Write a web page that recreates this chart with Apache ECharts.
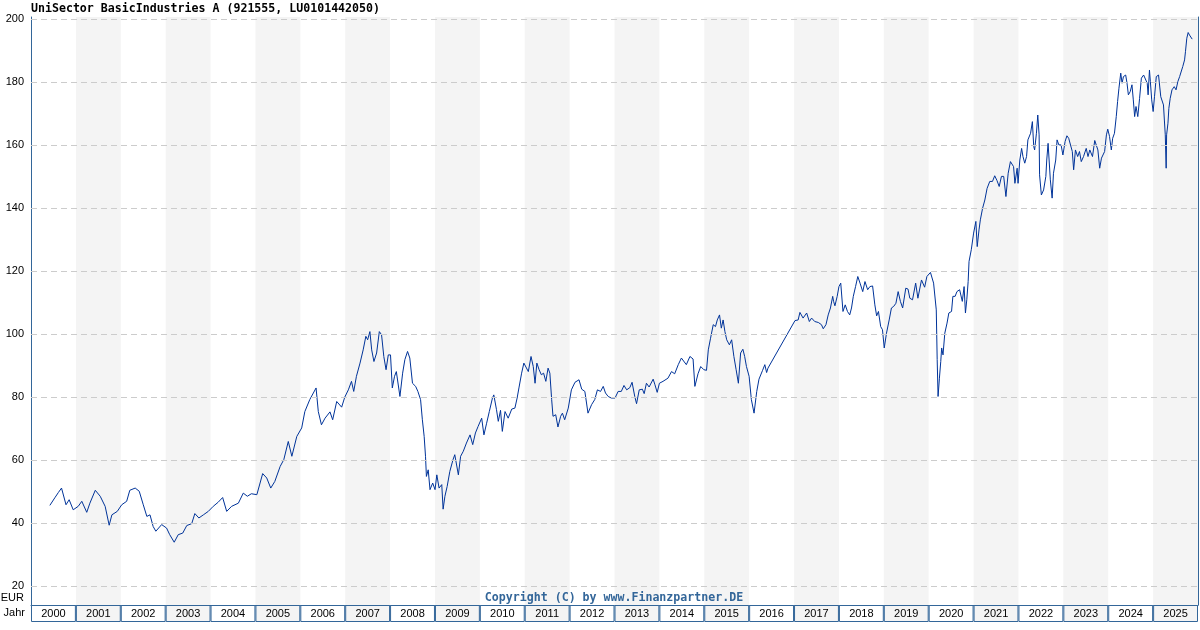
<!DOCTYPE html>
<html>
<head>
<meta charset="utf-8">
<script src="https://cdn.jsdelivr.net/npm/echarts@6/dist/echarts.min.js"></script>
<style>
  html, body { margin: 0; padding: 0; background: #fff; }
  #chart { width: 1200px; height: 630px; }
</style>
</head>
<body>
<div id="chart"></div>
<script>
// Jahre fuer die Baender und die Jahresleiste
const years = ['2000','2001','2002','2003','2004','2005','2006','2007','2008','2009','2010','2011','2012',
  '2013','2014','2015','2016','2017','2018','2019','2020','2021','2022','2023','2024','2025'];

// y-Achsen Beschriftung (EUR)
const yTicks = [20, 40, 60, 80, 100, 120, 140, 160, 180, 200];

// Zeitpunkte als Dezimaljahr
const dates = [
  2000.42, 2000.53, 2000.61, 2000.68, 2000.78, 2000.85, 2000.94,
  2001.05, 2001.13, 2001.24, 2001.31, 2001.43, 2001.54, 2001.65, 2001.74, 2001.80, 2001.92,
  2002.02, 2002.13, 2002.20, 2002.32, 2002.41, 2002.50, 2002.58, 2002.65, 2002.72, 2002.78, 2002.91,
  2003.02, 2003.09, 2003.19, 2003.28, 2003.38, 2003.47, 2003.58, 2003.65, 2003.74, 2003.84, 2003.95,
  2004.06, 2004.17, 2004.27, 2004.36, 2004.47, 2004.62, 2004.73, 2004.82, 2004.91,
  2005.03, 2005.16, 2005.25, 2005.34, 2005.43, 2005.55, 2005.63, 2005.73, 2005.81, 2005.92,
  2006.03, 2006.10, 2006.21, 2006.35, 2006.40, 2006.47, 2006.55, 2006.66, 2006.72, 2006.81, 2006.92, 2006.99,
  2007.07, 2007.14, 2007.19, 2007.25, 2007.33, 2007.40, 2007.46, 2007.50, 2007.55, 2007.59, 2007.64, 2007.70, 2007.76, 2007.81, 2007.86, 2007.91, 2007.96,
  2008.01, 2008.05, 2008.10, 2008.14, 2008.22, 2008.28, 2008.33, 2008.39, 2008.44, 2008.50, 2008.57, 2008.62, 2008.68, 2008.72, 2008.76, 2008.79, 2008.81, 2008.85, 2008.89, 2008.95,
  2009.00, 2009.04, 2009.09, 2009.15, 2009.18, 2009.22, 2009.27, 2009.33, 2009.40, 2009.44, 2009.52, 2009.57, 2009.63, 2009.70, 2009.78, 2009.84, 2009.90, 2009.96,
  2010.04, 2010.09, 2010.15, 2010.21, 2010.28, 2010.31, 2010.37, 2010.41, 2010.46, 2010.50, 2010.56, 2010.63, 2010.71, 2010.78, 2010.83, 2010.87, 2010.93, 2010.98,
  2011.02, 2011.08, 2011.14, 2011.19, 2011.23, 2011.27, 2011.32, 2011.37, 2011.42, 2011.47, 2011.52, 2011.56, 2011.60, 2011.63, 2011.69, 2011.74, 2011.80, 2011.84, 2011.89, 2011.97,
  2012.04, 2012.12, 2012.21, 2012.27, 2012.34, 2012.41, 2012.49, 2012.56, 2012.62, 2012.69, 2012.75, 2012.80, 2012.86, 2012.93,
  2013.01, 2013.08, 2013.15, 2013.21, 2013.27, 2013.34, 2013.39, 2013.45, 2013.49, 2013.55, 2013.62, 2013.66, 2013.71, 2013.77, 2013.86, 2013.90, 2013.95,
  2014.00, 2014.08, 2014.19, 2014.27, 2014.34, 2014.42, 2014.49, 2014.60, 2014.68, 2014.75, 2014.79, 2014.86, 2014.92, 2014.99,
  2015.05, 2015.09, 2015.14, 2015.20, 2015.25, 2015.29, 2015.34, 2015.38, 2015.42, 2015.46, 2015.50, 2015.56, 2015.61, 2015.66, 2015.71, 2015.76, 2015.81, 2015.86, 2015.90, 2015.94,
  2016.00, 2016.05, 2016.11, 2016.17, 2016.22, 2016.30, 2016.35, 2016.39, 2016.42,
  2017.02, 2017.09, 2017.13, 2017.20, 2017.28, 2017.34, 2017.39, 2017.46, 2017.54, 2017.61, 2017.65, 2017.71, 2017.76, 2017.81, 2017.86, 2017.88, 2017.91, 2017.96,
  2018.00, 2018.04, 2018.09, 2018.14, 2018.19, 2018.24, 2018.28, 2018.32, 2018.37, 2018.42, 2018.47, 2018.53, 2018.58, 2018.64, 2018.69, 2018.75, 2018.80, 2018.84, 2018.88, 2018.93, 2018.97,
  2019.01, 2019.06, 2019.12, 2019.17, 2019.22, 2019.27, 2019.32, 2019.37, 2019.42, 2019.49, 2019.54, 2019.58, 2019.64, 2019.71, 2019.76, 2019.84, 2019.91, 2019.96,
  2020.04, 2020.11, 2020.15, 2020.17, 2020.19, 2020.21, 2020.24, 2020.27, 2020.29, 2020.32, 2020.36, 2020.41, 2020.45, 2020.51, 2020.54, 2020.59, 2020.63, 2020.69, 2020.75, 2020.79, 2020.82, 2020.85, 2020.88, 2020.90, 2020.95,
  2021.00, 2021.05, 2021.08, 2021.12, 2021.15, 2021.20, 2021.25, 2021.30, 2021.36, 2021.42, 2021.47, 2021.52, 2021.57, 2021.62, 2021.67, 2021.72, 2021.77, 2021.82, 2021.86, 2021.89, 2021.92, 2021.97, 2021.99,
  2022.03, 2022.07, 2022.10, 2022.14, 2022.18, 2022.21, 2022.27, 2022.31, 2022.34, 2022.36, 2022.40, 2022.43, 2022.46, 2022.47, 2022.51, 2022.56, 2022.61, 2022.63, 2022.66, 2022.71, 2022.75, 2022.78, 2022.83, 2022.86, 2022.90, 2022.95, 2022.99,
  2023.04, 2023.08, 2023.12, 2023.16, 2023.20, 2023.23, 2023.27, 2023.32, 2023.36, 2023.40, 2023.45, 2023.51, 2023.55, 2023.59, 2023.65, 2023.70, 2023.74, 2023.77, 2023.81, 2023.85, 2023.88, 2023.92, 2023.96, 2023.99,
  2024.03, 2024.07, 2024.10, 2024.14, 2024.18, 2024.21, 2024.24, 2024.28, 2024.31, 2024.34, 2024.39, 2024.42, 2024.45, 2024.49, 2024.53, 2024.56, 2024.59, 2024.62, 2024.66, 2024.70, 2024.74, 2024.79, 2024.83, 2024.87, 2024.89, 2024.92, 2024.94, 2024.97,
  2025.00, 2025.03, 2025.07, 2025.12, 2025.14, 2025.17, 2025.20, 2025.23, 2025.25, 2025.27, 2025.29, 2025.30, 2025.33, 2025.35, 2025.38, 2025.42, 2025.47, 2025.51, 2025.55, 2025.59, 2025.63, 2025.66, 2025.70, 2025.72, 2025.75, 2025.78, 2025.81, 2025.84, 2025.87
];

// Kurs in EUR
const values = [
  45.6, 48.0, 49.7, 51.1, 45.8, 47.4, 44.2,
  45.3, 46.9, 43.4, 46.3, 50.4, 48.5, 45.3, 39.3, 42.6, 43.7,
  45.8, 46.9, 50.4, 51.1, 50.1, 45.8, 42.1, 42.6, 38.9, 37.4, 39.5,
  38.4, 36.3, 33.9, 36.3, 36.8, 39.2, 39.8, 43.0, 41.6, 42.6, 43.7,
  45.3, 46.6, 48.1, 43.7, 45.3, 46.3, 49.5, 48.5, 49.3,
  49.0, 55.7, 54.3, 51.1, 53.2, 58.0, 60.1, 65.9, 61.2, 67.5,
  70.2, 75.4, 79.2, 82.9, 75.4, 71.2, 73.3, 75.3, 72.8, 78.6, 76.8, 80.0,
  82.3, 85.0, 81.8, 86.6, 90.8, 95.0, 99.3, 98.2, 100.8, 95.0, 91.3, 94.0, 100.8, 99.8, 92.9, 88.7, 93.4,
  93.4, 82.9, 86.6, 88.1, 80.2, 87.6, 91.9, 94.5, 92.4, 84.4, 83.4, 81.8, 79.2, 72.8, 67.5, 61.2, 54.8, 56.9, 50.6, 52.7,
  50.6, 55.3, 51.1, 52.2, 44.4, 48.5, 51.6, 56.4, 60.1, 61.7, 55.3, 61.2, 62.8, 65.4, 68.0, 64.9, 68.6, 70.7,
  73.3, 68.0, 71.7, 75.4, 79.7, 80.7, 76.0, 72.3, 75.8, 69.1, 75.4, 73.3, 76.2, 76.5, 79.7, 82.9, 87.6, 90.8,
  91.3, 88.1, 92.9, 89.7, 84.4, 90.8, 88.7, 87.1, 87.6, 85.0, 89.2, 87.6, 79.2, 73.9, 74.4, 70.5, 73.9, 74.9, 72.8, 76.5,
  82.3, 84.7, 85.5, 82.5, 81.8, 74.9, 77.6, 79.2, 82.3, 81.8, 83.4, 81.3, 80.2, 79.7,
  79.7, 81.8, 81.8, 83.7, 82.3, 83.0, 84.7, 80.2, 77.9, 82.3, 82.5, 81.1, 84.4, 83.2, 85.7, 83.9, 81.5,
  84.4, 85.0, 86.0, 88.1, 87.4, 90.3, 92.4, 90.3, 92.9, 92.1, 83.4, 87.4, 89.7, 88.7,
  88.5, 95.0, 98.7, 103.0, 102.4, 104.5, 106.1, 101.9, 104.5, 100.8, 98.2, 96.6, 98.2, 92.9, 88.7, 84.4, 94.0, 95.2, 92.9, 89.7,
  86.6, 79.2, 74.9, 81.8, 85.7, 88.5, 90.3, 87.8, 89.2,
  104.3, 104.5, 106.9, 105.1, 106.7, 104.0, 105.1, 104.0, 103.7, 103.0, 101.7, 103.0, 106.1, 108.3, 112.0, 110.4, 109.0, 112.0,
  115.1, 116.2, 107.2, 109.3, 107.2, 106.1, 108.3, 112.0, 115.1, 118.3, 116.2, 113.5, 116.7, 114.1, 115.1, 115.3, 109.3, 105.8, 107.2, 102.4, 101.4,
  95.6, 100.3, 104.5, 108.3, 108.8, 109.8, 113.5, 110.4, 108.3, 114.6, 114.3, 111.4, 110.9, 116.2, 111.4, 117.2, 114.9, 118.3,
  119.6, 116.2, 115.7, 107.7, 91.9, 80.2, 86.0, 91.3, 95.6, 93.4, 100.3, 103.5, 106.7, 107.2, 112.0, 112.0, 113.5, 114.1, 110.4, 115.1, 106.7, 110.9, 116.7, 123.1, 126.8,
  132.1, 135.8, 127.8, 133.1, 136.3, 140.0, 142.6, 146.3, 148.5, 148.5, 150.3, 148.8, 146.9, 150.1, 150.1, 143.7, 151.1, 154.8, 155.3, 153.2, 147.9, 152.7, 147.9,
  155.3, 159.0, 156.4, 154.3, 156.4, 161.7, 163.8, 167.5, 159.6, 158.5, 163.8, 169.6, 163.3, 150.6, 144.2, 145.8, 150.1, 155.3, 160.6, 149.0, 143.2, 151.1, 155.3, 161.7, 160.1, 160.1, 156.9,
  161.2, 163.0, 162.2, 162.5, 158.0, 152.2, 158.5, 156.4, 158.0, 154.8, 156.4, 159.0, 156.4, 158.5, 156.4, 161.5, 161.9, 158.5, 152.7, 155.9, 156.4, 158.0, 163.3, 165.1,
  162.8, 158.5, 162.2, 163.8, 169.1, 173.9, 178.1, 182.9, 179.7, 181.8, 182.3, 179.7, 176.0, 177.0, 179.2, 174.4, 169.1, 172.3, 169.1, 174.9, 181.3, 182.3, 181.8, 179.7, 176.0, 183.9, 180.2, 174.4,
  170.7, 175.4, 181.8, 182.3, 182.3, 175.4, 175.4, 172.8, 168.0, 163.3, 152.7, 163.3, 167.0, 171.7, 174.9, 177.6, 178.6, 177.6, 180.2, 181.8, 182.3, 185.0, 187.1, 189.7, 194.0, 195.8, 195.0, 194.7, 193.7
];

const toTime = function (y) {
  const yr = Math.floor(y);
  return Date.UTC(yr, 0, 1) + (y - yr) * 365.25 * 86400000;
};

const xMin = Date.UTC(2000, 0, 1);
const xMax = Date.UTC(2026, 0, 1);
const yMin = 13.96;
const yMax = 200.73;

let lineData = [];
for (let i = 0; i < dates.length; i++) {
  lineData.push([toTime(dates[i]), values[i]]);
}

// graue Baender fuer ungerade Jahre
let bands = [];
for (let i = 0; i < years.length; i++) {
  if (i % 2 === 1) {
    let y = parseInt(years[i], 10);
    bands.push([{ xAxis: Date.UTC(y, 0, 1) }, { xAxis: Date.UTC(y + 1, 0, 1) }]);
  }
}

const anchor = [[xMin, yMin], [xMax, yMin]];
const labelFont = 'Liberation Sans, Arial, sans-serif';
const monoFont = 'DejaVu Sans Mono, Liberation Mono, monospace';

let myChart = echarts.init(document.getElementById('chart'), null, { renderer: 'canvas' });
myChart.setOption({
  animation: false,
  backgroundColor: '#ffffff',
  grid: [
    { left: 31, right: 2, top: 17, bottom: 25 },
    { left: 31, right: 2, top: 605, height: 17 }
  ],
  xAxis: [
    {
      type: 'time', gridIndex: 0, min: xMin, max: xMax,
      axisLine: { show: true, lineStyle: { color: '#336699', width: 1 } },
      axisTick: { show: false }, axisLabel: { show: false }, splitLine: { show: false }
    },
    {
      type: 'category', gridIndex: 1, data: years, boundaryGap: true,
      axisLine: { show: false }, axisTick: { show: false }, axisLabel: { show: false }, splitLine: { show: false }
    }
  ],
  yAxis: [
    {
      type: 'value', gridIndex: 0, min: yMin, max: yMax,
      axisLine: { show: true, lineStyle: { color: '#336699', width: 1 } },
      axisTick: { show: false },
      splitLine: { show: false },
      axisLabel: {
        customValues: yTicks, color: '#000', fontSize: 11, fontFamily: labelFont, margin: 7
      }
    },
    {
      type: 'value', gridIndex: 0, position: 'right', min: yMin, max: yMax,
      axisLine: { show: true, lineStyle: { color: '#336699', width: 1 } },
      axisTick: { show: false }, axisLabel: { show: false }, splitLine: { show: false }
    },
    {
      type: 'value', gridIndex: 1, min: 0, max: 1, show: false
    }
  ],
  series: [
    {
      name: '.bands', type: 'line', xAxisIndex: 0, yAxisIndex: 0, z: 1,
      data: anchor, showSymbol: false, silent: true,
      lineStyle: { opacity: 0 },
      markArea: { silent: true, itemStyle: { color: '#f4f4f4' }, data: bands }
    },
    {
      name: '.grid', type: 'line', xAxisIndex: 0, yAxisIndex: 0, z: 2,
      data: anchor, showSymbol: false, silent: true,
      lineStyle: { opacity: 0 },
      markLine: {
        silent: true, symbol: 'none', label: { show: false },
        lineStyle: { color: '#cccccc', width: 1, type: [6, 4] },
        data: yTicks.map(function (v) { return { yAxis: v }; })
      }
    },
    {
      name: 'Kurs', type: 'line', xAxisIndex: 0, yAxisIndex: 0, z: 3,
      data: lineData, showSymbol: false, symbol: 'none',
      lineStyle: { color: '#003399', width: 1 }
    },
    {
      name: '.jahre', type: 'bar', xAxisIndex: 1, yAxisIndex: 2,
      data: years.map(function () { return 1; }),
      barWidth: '100%', silent: true,
      itemStyle: {
        color: function (p) { return p.dataIndex % 2 ? '#f4f4f4' : '#ffffff'; },
        borderColor: '#336699', borderWidth: 1
      },
      label: {
        show: true, position: 'inside', formatter: '{b}',
        color: '#000', fontSize: 11, fontFamily: labelFont
      }
    }
  ],
  graphic: [
    {
      type: 'text', left: 31, top: 3, z: 100,
      style: { text: 'UniSector BasicIndustries A (921555, LU0101442050)', font: 'bold 11.6px ' + monoFont, fill: '#000' }
    },
    {
      type: 'text', x: 614, y: 598, z: 100,
      style: { text: 'Copyright (C) by www.Finanzpartner.DE', font: 'bold 11.6px ' + monoFont, fill: '#336699', align: 'center', verticalAlign: 'middle' }
    },
    {
      type: 'text', x: 24, y: 598, z: 100,
      style: { text: 'EUR', font: '11px ' + labelFont, fill: '#000', align: 'right', verticalAlign: 'middle' }
    },
    {
      type: 'text', x: 25, y: 613, z: 100,
      style: { text: 'Jahr', font: '11px ' + labelFont, fill: '#000', align: 'right', verticalAlign: 'middle' }
    }
  ]
});
</script>
</body>
</html>
